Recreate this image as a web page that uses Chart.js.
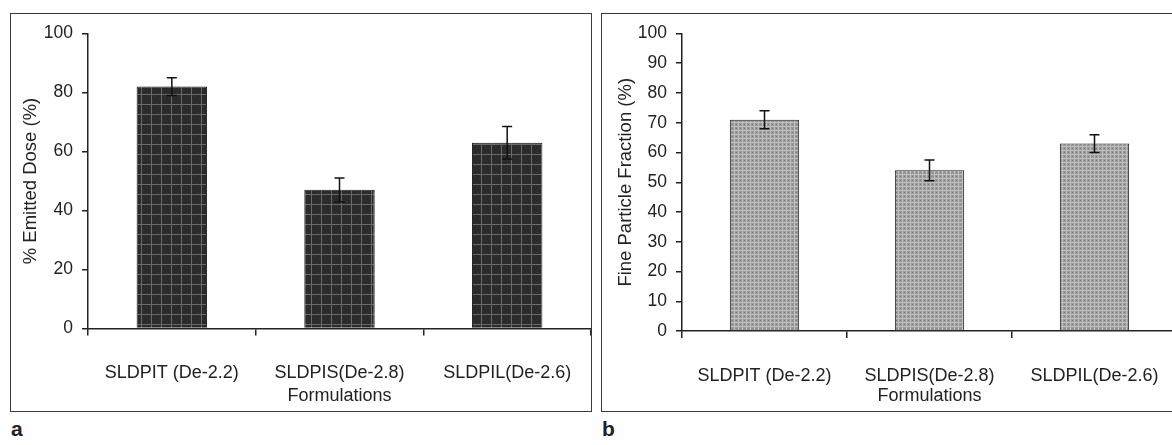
<!DOCTYPE html>
<html>
<head>
<meta charset="utf-8">
<script src="https://cdn.jsdelivr.net/npm/chart.js@4.4.0/dist/chart.umd.min.js"></script>
<style>
  html, body { margin: 0; padding: 0; background: #fff; overflow: hidden; width: 1172px; height: 445px; }
  .panel { position: absolute; top: 13px; border: 1px solid #3a3a3a; background: #fff; }
  #panel-a { left: 10px; width: 580px; height: 397px; }
  #panel-b { left: 601px; width: 578px; height: 397px; }
  .tag { position: absolute; top: 417px; font: bold 21px "Liberation Sans", Arial, sans-serif; color: #222; }
</style>
</head>
<body>
<div class="panel" id="panel-a"><canvas id="chart-a" width="580" height="397"></canvas></div>
<div class="panel" id="panel-b"><canvas id="chart-b" width="578" height="397"></canvas></div>
<div class="tag" style="left:11px">a</div>
<div class="tag" style="left:602px">b</div>
<script>
const categories = ['SLDPIT (De-2.2)', 'SLDPIS(De-2.8)', 'SLDPIL(De-2.6)'];
const emittedDose = [82, 47, 63];
const emittedDoseErr = [3, 4, 5.5];
const fineParticle = [71, 54, 63];
const fineParticleErr = [3, 3.5, 3];
const ticksA = [0, 20, 40, 60, 80, 100];
const ticksB = [0, 10, 20, 30, 40, 50, 60, 70, 80, 90, 100];

const FONT = '"Liberation Sans", Arial, sans-serif';
const INK = '#222';

// bar fills: checked patterns like the old spreadsheet hatches
function makePattern(size, base, line, fine) {
  const c = document.createElement('canvas');
  c.width = size;
  c.height = size;
  const g = c.getContext('2d');
  g.fillStyle = base;
  g.fillRect(0, 0, size, size);
  if (fine) {
    g.fillStyle = fine;
    for (let i = 0; i < size; i += 2) {
      g.fillRect(i, (i * 3) % size, 1, 1);
    }
  }
  g.fillStyle = line;
  g.fillRect(0, 0, 1, size);
  g.fillRect(0, 0, size, 1);
  return g.createPattern(c, 'repeat');
}

// draws +/- error whiskers from the bar elements and the y scale
const errorBars = {
  id: 'errorBars',
  afterDatasetsDraw(chart, args, opts) {
    const { ctx } = chart;
    const y = chart.scales.y;
    const meta = chart.getDatasetMeta(0);
    const values = chart.data.datasets[0].data;
    ctx.save();
    ctx.strokeStyle = '#111';
    ctx.lineWidth = 1.5;
    meta.data.forEach((bar, i) => {
      const hi = y.getPixelForValue(values[i] + opts.errors[i]);
      const lo = y.getPixelForValue(values[i] - opts.errors[i]);
      ctx.beginPath();
      ctx.moveTo(bar.x, hi);
      ctx.lineTo(bar.x, lo);
      ctx.moveTo(bar.x - 5, hi);
      ctx.lineTo(bar.x + 5, hi);
      ctx.moveTo(bar.x - 5, lo);
      ctx.lineTo(bar.x + 5, lo);
      ctx.stroke();
    });
    ctx.restore();
  },
};

function buildChart(canvasId, cfg) {
  const ctx = document.getElementById(canvasId).getContext('2d');
  return new Chart(ctx, {
    type: 'bar',
    data: {
      labels: categories,
      datasets: [{
        data: cfg.values,
        backgroundColor: cfg.fill,
        borderColor: '#1e1e1e',
        borderWidth: 1,
        categoryPercentage: 1,
        barPercentage: 0.42,
      }],
    },
    options: {
      responsive: false,
      animation: false,
      layout: { padding: { top: cfg.top, right: cfg.right, left: 0, bottom: 0 } },
      plugins: {
        legend: { display: false },
        tooltip: { enabled: false },
        errorBars: { errors: cfg.errors },
      },
      scales: {
        x: {
          grid: { drawOnChartArea: false, tickLength: 7, color: INK, lineWidth: 1.5 },
          border: { color: INK, width: 1.5 },
          ticks: { color: INK, padding: 27, maxRotation: 0, font: { family: FONT, size: 18 } },
          title: {
            display: true,
            text: 'Formulations',
            color: INK,
            padding: { top: 0, bottom: 4 },
            font: { family: FONT, size: 18 },
          },
          afterFit(scale) {
            scale.height = cfg.xHeight;
            // labels fit inside their categories, no side padding needed
            scale.paddingLeft = 0;
            scale.paddingRight = 0;
          },
        },
        y: {
          min: 0,
          max: 100,
          afterBuildTicks(scale) { scale.ticks = cfg.ticks.map((v) => ({ value: v })); },
          grid: { drawOnChartArea: false, tickLength: 6, color: INK, lineWidth: 1.5 },
          border: { color: INK, width: 1.5 },
          ticks: { color: INK, padding: 9, font: { family: FONT, size: 17.5 } },
          title: {
            display: true,
            text: cfg.yTitle,
            color: INK,
            padding: { top: cfg.yTitlePad, bottom: 0 },
            font: { family: FONT, size: 18.5 },
          },
          afterFit(scale) { scale.width = cfg.yWidth; },
        },
      },
    },
    plugins: [errorBars],
  });
}

buildChart('chart-a', {
  values: emittedDose,
  errors: emittedDoseErr,
  ticks: ticksA,
  yTitle: '% Emitted Dose (%)',
  fill: makePattern(10, '#2b2b2b', '#6a6a6a', '#363636'),
  top: 17,
  right: 0,
  yWidth: 77,
  xHeight: 82.5,
  yTitlePad: 9,
});

buildChart('chart-b', {
  values: fineParticle,
  errors: fineParticleErr,
  ticks: ticksB,
  yTitle: 'Fine Particle Fraction (%)',
  fill: makePattern(4, '#979797', '#c0c0c0', '#888888'),
  top: 19,
  right: 3,
  yWidth: 80,
  xHeight: 80,
  yTitlePad: 13,
});
</script>
</body>
</html>
